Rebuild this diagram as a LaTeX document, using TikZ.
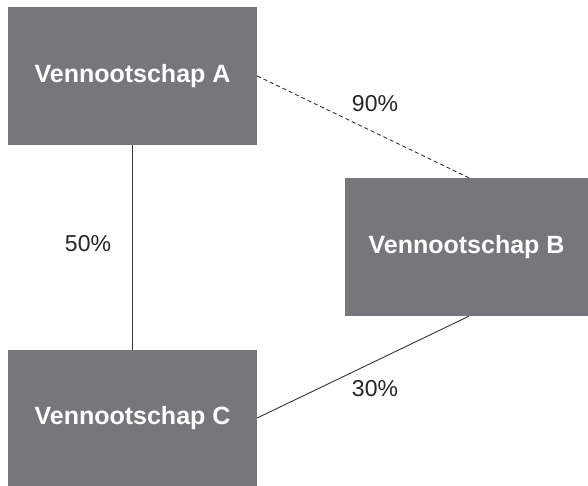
\documentclass[tikz,border=0pt]{standalone}
\usepackage{fontspec}
\setmainfont{Liberation Sans}
\usetikzlibrary{calc}
\newcommand{\lowered}[1]{\raisebox{-3pt}{#1}}
\begin{document}
\begin{tikzpicture}[x=1pt,y=1pt,
  company/.style={fill=boxgray,draw=none,text=white,font=\fontsize{25}{29}\selectfont\bfseries,inner sep=0pt},
  pct/.style={text=black!85,font=\fontsize{23}{27}\selectfont,inner sep=0pt},
  link/.style={draw=black!80,line width=0.9pt}]
\definecolor{boxgray}{HTML}{77777B}
\useasboundingbox (0,0) rectangle (588,486);
\fill[white] (0,0) rectangle (588,486);
\node[company,minimum width=249pt,minimum height=138pt] (A) at (132.5,410) {\lowered{Vennootschap A}};
\node[company,minimum width=243pt,minimum height=138pt] (B) at (466.5,239) {\lowered{Vennootschap B}};
\node[company,minimum width=249pt,minimum height=136pt] (C) at (132.5,68) {\lowered{Vennootschap C}};
\coordinate (Bt) at ($(B.north west)!0.51!(B.north east)$);
\coordinate (Bb) at ($(B.south west)!0.51!(B.south east)$);
\draw[link,dashed,dash pattern=on 4pt off 3pt] (A.east) -- (Bt);
\draw[link] (A.south) -- (C.north);
\draw[link] (C.east) -- (Bb);
\node[pct] (p90) at (375,382) {90\%};
\node[pct] (p50) at (88,242) {50\%};
\node[pct] (p30) at (375,97) {30\%};
\end{tikzpicture}
\end{document}
